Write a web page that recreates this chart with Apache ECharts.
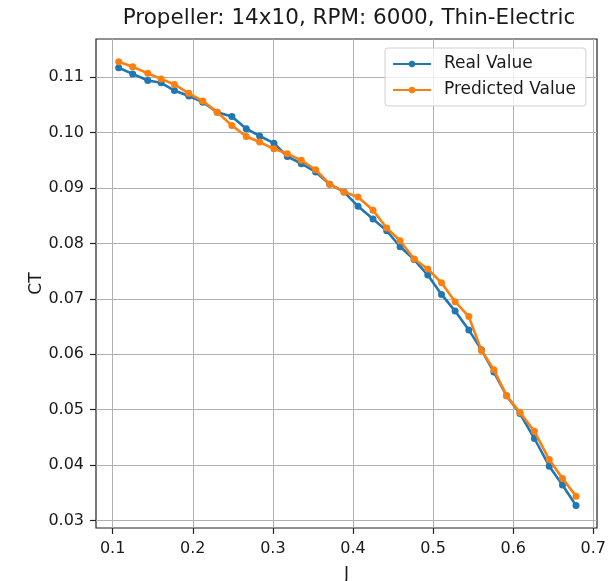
<!DOCTYPE html>
<html>
<head>
<meta charset="utf-8">
<script src="https://cdn.jsdelivr.net/npm/echarts@6/dist/echarts.min.js"></script>
<style>
html,body{margin:0;padding:0;background:#fff;}
#chart{width:616px;height:581px;}
</style>
</head>
<body>
<div id="chart"></div>
<script>
// Advance ratio J (x values)
const J = [0.1075, 0.125, 0.1438, 0.1605, 0.1771, 0.195, 0.2125, 0.2305, 0.2488, 0.2668,
           0.2834, 0.3013, 0.318, 0.3355, 0.3534, 0.3709, 0.3888, 0.4063, 0.425, 0.4421,
           0.4588, 0.4763, 0.4934, 0.5105, 0.5275, 0.5446, 0.5603, 0.5759, 0.5918, 0.6084,
           0.6265, 0.645, 0.6615, 0.6784];
// Real CT values
const realCT = [0.1117, 0.1106, 0.1094, 0.1090, 0.1076, 0.1066, 0.1055, 0.1037, 0.1029, 0.1007,
                0.0994, 0.0981, 0.0957, 0.0944, 0.0929, 0.0907, 0.0893, 0.0867, 0.0844, 0.0823,
                0.0794, 0.0771, 0.0743, 0.0708, 0.0678, 0.0644, 0.0608, 0.0568, 0.0525, 0.0493,
                0.0448, 0.0398, 0.0364, 0.0327];
// Predicted CT values
const predCT = [0.1128, 0.1119, 0.1107, 0.1097, 0.1087, 0.1071, 0.1057, 0.1037, 0.1013, 0.0993,
                0.0983, 0.0971, 0.0962, 0.0950, 0.0933, 0.0907, 0.0893, 0.0884, 0.0860, 0.0828,
                0.0805, 0.0772, 0.0754, 0.0729, 0.0695, 0.0668, 0.0607, 0.0572, 0.0525, 0.0495,
                0.0461, 0.0410, 0.0376, 0.0344];
// Tick values
const xTicks = [0.1, 0.2, 0.3, 0.4, 0.5, 0.6, 0.7];
const yTicks = [0.03, 0.04, 0.05, 0.06, 0.07, 0.08, 0.09, 0.10, 0.11];

const titleText = 'Propeller: 14x10, RPM: 6000, Thin-Electric';
const FONT = 'DejaVu Sans';
const TXT = '#1a1a1a';

const chart = echarts.init(document.getElementById('chart'), null, {renderer: 'canvas'});
chart.setOption({
  animation: false,
  backgroundColor: '#fff',
  title: {
    text: titleText,
    left: 349, top: 18, padding: 0,
    textAlign: 'center', textVerticalAlign: 'middle',
    textStyle: {fontFamily: FONT, fontSize: 21.5, fontWeight: 'normal', color: TXT}
  },
  legend: {
    orient: 'vertical',
    left: 385, top: 48,
    padding: [6, 10, 6, 7],
    itemGap: 6,
    itemWidth: 38, itemHeight: 8,
    backgroundColor: 'rgba(255,255,255,0.8)',
    borderColor: '#d0d0d0', borderWidth: 1, borderRadius: 3,
    textStyle: {fontFamily: FONT, fontSize: 17, color: TXT, lineHeight: 20, padding: [0, 0, 0, 8]},
    data: ['Real Value', 'Predicted Value']
  },
  grid: {
    left: 96, top: 39, right: 19, bottom: 53,
    containLabel: false, outerBoundsMode: 'none',
    show: true, borderColor: '#222', borderWidth: 1.2, backgroundColor: 'transparent'
  },
  xAxis: {
    type: 'value', min: 0.0792, max: 0.7046,
    name: 'J', nameLocation: 'middle', nameGap: 38, nameMoveOverlap: false,
    nameTextStyle: {fontFamily: FONT, fontSize: 17, color: TXT},
    axisLine: {show: false},
    axisTick: {show: true, length: 6, lineStyle: {color: '#222', width: 1.2}, customValues: xTicks},
    axisLabel: {fontFamily: FONT, fontSize: 16, color: TXT, margin: 13, customValues: xTicks,
      formatter: v => v.toFixed(1)},
    splitLine: {show: true, lineStyle: {color: '#b0b0b0', width: 1}}
  },
  yAxis: {
    type: 'value', min: 0.02865, max: 0.1169,
    name: 'CT', nameLocation: 'middle', nameGap: 51, nameMoveOverlap: false,
    nameTextStyle: {fontFamily: FONT, fontSize: 17, color: TXT},
    axisLine: {show: false},
    axisTick: {show: true, length: 6, lineStyle: {color: '#222', width: 1.2}, customValues: yTicks},
    axisLabel: {fontFamily: FONT, fontSize: 16, color: TXT, margin: 12, customValues: yTicks,
      formatter: v => v.toFixed(2)},
    splitLine: {show: true, lineStyle: {color: '#b0b0b0', width: 1}}
  },
  series: [
    {
      name: 'Real Value', type: 'line',
      data: J.map((x, i) => [x, realCT[i]]),
      symbol: 'circle', symbolSize: 7, showSymbol: true,
      itemStyle: {color: '#1f77b4'},
      lineStyle: {color: '#1f77b4', width: 2.6},
      z: 2
    },
    {
      name: 'Predicted Value', type: 'line',
      data: J.map((x, i) => [x, predCT[i]]),
      symbol: 'circle', symbolSize: 7, showSymbol: true,
      itemStyle: {color: '#ff7f0e'},
      lineStyle: {color: '#ff7f0e', width: 2.6},
      z: 3
    }
  ]
});
</script>
</body>
</html>
